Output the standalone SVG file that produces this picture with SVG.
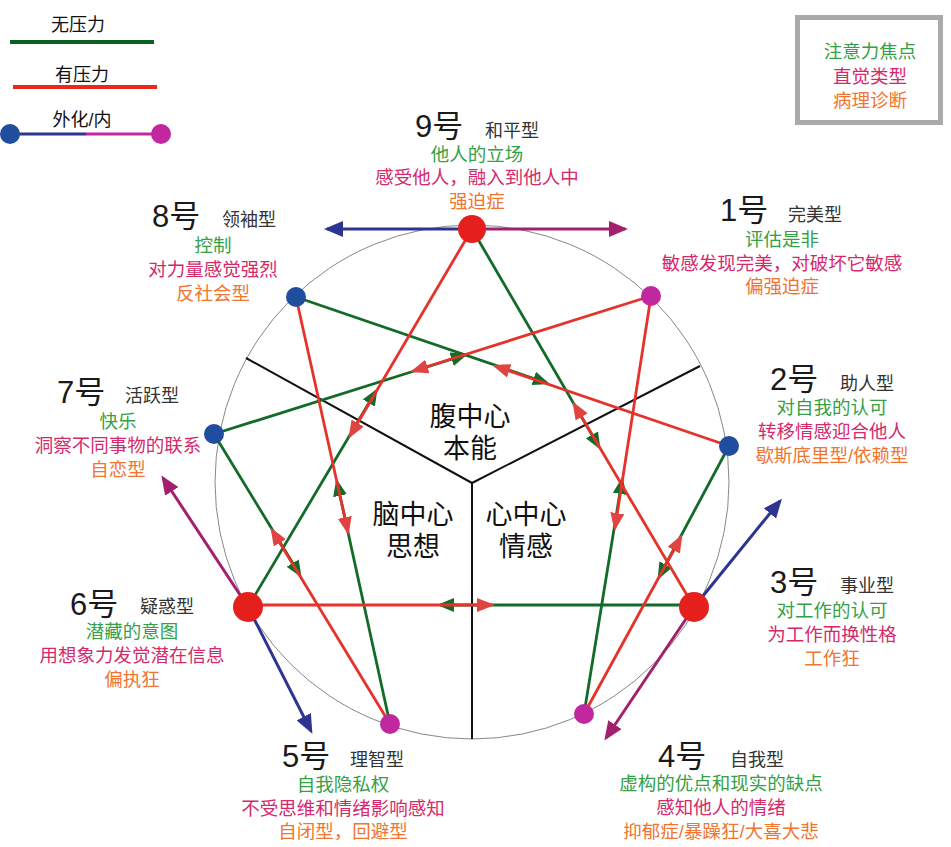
<svg xmlns="http://www.w3.org/2000/svg" width="951" height="847" viewBox="0 0 951 847">
<style>
text{font-family:"Liberation Sans","Noto Sans CJK SC",sans-serif}
.num{font-size:31px;fill:#1a1a1a}
.typ{font-size:18px;fill:#333}
.g{font-size:18.5px;fill:#35a046;text-anchor:middle}
.m{font-size:18.5px;fill:#d42a6c;text-anchor:middle}
.o{font-size:18.5px;fill:#f07530;text-anchor:middle}
.ctr{font-size:27px;fill:#111;text-anchor:middle}
.lr{stroke:#e5322b;stroke-width:2.8;fill:none;marker-end:url(#ar)}
.lg{stroke:#136b28;stroke-width:2.8;fill:none;marker-end:url(#ag)}
.wb{stroke:#2d3590;stroke-width:3;fill:none;marker-end:url(#ab)}
.wm{stroke:#a3206f;stroke-width:3;fill:none;marker-end:url(#am)}
.nr{fill:#e5201c}
.nb{fill:#1f4e9f}
.nm{fill:#c1289f}
.div{stroke:#111;stroke-width:2;fill:none}
</style>
<defs>
<marker id="ar" markerUnits="userSpaceOnUse" markerWidth="20" markerHeight="14" refX="15" refY="7" orient="auto"><path d="M0,0 L18,7 L0,14 z" fill="#e04440"/></marker>
<marker id="ag" markerUnits="userSpaceOnUse" markerWidth="20" markerHeight="14" refX="14" refY="7" orient="auto"><path d="M0,0 L17,7 L0,14 z" fill="#136b28"/></marker>
<marker id="ab" markerUnits="userSpaceOnUse" markerWidth="20" markerHeight="16" refX="16" refY="8" orient="auto"><path d="M0,0 L19,8 L0,16 z" fill="#2d3590"/></marker>
<marker id="am" markerUnits="userSpaceOnUse" markerWidth="20" markerHeight="16" refX="16" refY="8" orient="auto"><path d="M0,0 L19,8 L0,16 z" fill="#a3206f"/></marker>
</defs>
<rect width="951" height="847" fill="#fff"/>

<g id="legend-left">
<text x="78" y="31" font-size="18" fill="#111" text-anchor="middle">无压力</text>
<line x1="10" y1="42" x2="154" y2="42" stroke="#0b5f1f" stroke-width="4"/>
<text x="82" y="81" font-size="18" fill="#111" text-anchor="middle">有压力</text>
<line x1="13" y1="87" x2="157" y2="87" stroke="#e8291c" stroke-width="4"/>
<text x="82" y="126" font-size="18" fill="#111" text-anchor="middle">外化/内</text>
<line x1="10" y1="134" x2="86" y2="134" stroke="#2d3590" stroke-width="3"/>
<line x1="86" y1="134" x2="161" y2="134" stroke="#c1289f" stroke-width="3"/>
<circle cx="10" cy="134" r="10" class="nb"/>
<circle cx="161" cy="134" r="10" class="nm"/>
</g>

<g id="legend-right">
<rect x="797.5" y="17.5" width="143" height="105" fill="#fff" stroke="#aaa" stroke-width="5"/>
<text x="870" y="58" class="g">注意力焦点</text>
<text x="870" y="83" class="m">直觉类型</text>
<text x="870" y="107" class="o">病理诊断</text>
</g>

<g id="ring">
<circle cx="472" cy="482" r="257" fill="none" stroke="#888" stroke-width="1"/>
<path class="div" d="M246,358 L472,483 L700,366 M472,483 L472,739"/>
<text x="470" y="426" class="ctr">腹中心</text>
<text x="470" y="458" class="ctr">本能</text>
<text x="413" y="524" class="ctr">脑中心</text>
<text x="413" y="556" class="ctr">思想</text>
<text x="526" y="524" class="ctr">心中心</text>
<text x="526" y="556" class="ctr">情感</text>
</g>

<g id="connectors">
<line class="lg" x1="248" y1="607" x2="376" y2="391"/>
<line class="lg" x1="694" y1="605" x2="440" y2="605"/>
<line class="lg" x1="472" y1="229" x2="599" y2="447"/>
<line class="lg" x1="584" y1="714" x2="622" y2="480"/>
<line class="lg" x1="729" y1="446" x2="659" y2="577"/>
<line class="lg" x1="296" y1="297" x2="547" y2="383"/>
<line class="lg" x1="390" y1="724" x2="337" y2="482"/>
<line class="lg" x1="214" y1="434" x2="300" y2="575"/>
<line class="lg" x1="214" y1="434" x2="465" y2="355"/>
<line class="lr" x1="472" y1="229" x2="350" y2="436"/>
<line class="lr" x1="248" y1="605" x2="492" y2="605"/>
<line class="lr" x1="694" y1="607" x2="574" y2="404"/>
<line class="lr" x1="651" y1="296" x2="615" y2="528"/>
<line class="lr" x1="584" y1="714" x2="681" y2="537"/>
<line class="lr" x1="729" y1="446" x2="495" y2="366"/>
<line class="lr" x1="296" y1="297" x2="348" y2="532"/>
<line class="lr" x1="390" y1="724" x2="272" y2="530"/>
<line class="lr" x1="651" y1="296" x2="413" y2="371"/>
<line class="wb" x1="472" y1="229" x2="327" y2="229"/>
<line class="wm" x1="472" y1="229" x2="625" y2="229"/>
<line class="wm" x1="248" y1="607" x2="163" y2="478"/>
<line class="wb" x1="248" y1="607" x2="311" y2="731"/>
<line class="wb" x1="694" y1="607" x2="780" y2="501"/>
<line class="wm" x1="694" y1="607" x2="606" y2="738"/>
</g>

<g id="node9">
<circle cx="472" cy="229" r="14" class="nr"/>
<text x="415" y="137" class="num">9号</text>
<text x="485" y="137" class="typ">和平型</text>
<text x="477" y="161" class="g">他人的立场</text>
<text x="477" y="184" class="m">感受他人，融入到他人中</text>
<text x="477" y="208" class="o">强迫症</text>
</g>
<g id="node1">
<circle cx="651" cy="296" r="10" class="nm"/>
<text x="720" y="221" class="num">1号</text>
<text x="788" y="221" class="typ">完美型</text>
<text x="782" y="246" class="g">评估是非</text>
<text x="782" y="270" class="m">敏感发现完美，对破坏它敏感</text>
<text x="782" y="293" class="o">偏强迫症</text>
</g>
<g id="node2">
<circle cx="729" cy="446" r="10" class="nb"/>
<text x="770" y="390" class="num">2号</text>
<text x="840" y="390" class="typ">助人型</text>
<text x="832" y="414" class="g">对自我的认可</text>
<text x="832" y="438" class="m">转移情感迎合他人</text>
<text x="832" y="462" class="o">歇斯底里型/依赖型</text>
</g>
<g id="node3">
<circle cx="694" cy="607" r="15" class="nr"/>
<text x="770" y="593" class="num">3号</text>
<text x="840" y="592" class="typ">事业型</text>
<text x="832" y="617" class="g">对工作的认可</text>
<text x="832" y="641" class="m">为工作而换性格</text>
<text x="832" y="665" class="o">工作狂</text>
</g>
<g id="node4">
<circle cx="584" cy="714" r="10" class="nm"/>
<text x="658" y="767" class="num">4号</text>
<text x="730" y="766" class="typ">自我型</text>
<text x="721" y="790" class="g">虚构的优点和现实的缺点</text>
<text x="721" y="814" class="m">感知他人的情绪</text>
<text x="721" y="838" class="o">抑郁症/暴躁狂/大喜大悲</text>
</g>
<g id="node5">
<circle cx="390" cy="724" r="10" class="nm"/>
<text x="282" y="767" class="num">5号</text>
<text x="350" y="766" class="typ">理智型</text>
<text x="343" y="791" class="g">自我隐私权</text>
<text x="343" y="815" class="m">不受思维和情绪影响感知</text>
<text x="343" y="838" class="o">自闭型，回避型</text>
</g>
<g id="node6">
<circle cx="248" cy="607" r="15" class="nr"/>
<text x="70" y="615" class="num">6号</text>
<text x="140" y="613" class="typ">疑惑型</text>
<text x="132" y="638" class="g">潜藏的意图</text>
<text x="132" y="662" class="m">用想象力发觉潜在信息</text>
<text x="132" y="686" class="o">偏执狂</text>
</g>
<g id="node7">
<circle cx="214" cy="434" r="10" class="nb"/>
<text x="57" y="403" class="num">7号</text>
<text x="125" y="402" class="typ">活跃型</text>
<text x="118" y="428" class="g">快乐</text>
<text x="118" y="452" class="m">洞察不同事物的联系</text>
<text x="118" y="476" class="o">自恋型</text>
</g>
<g id="node8">
<circle cx="296" cy="297" r="10" class="nb"/>
<text x="152" y="227" class="num">8号</text>
<text x="222" y="226" class="typ">领袖型</text>
<text x="213" y="252" class="g">控制</text>
<text x="213" y="276" class="m">对力量感觉强烈</text>
<text x="213" y="300" class="o">反社会型</text>
</g>
</svg>
